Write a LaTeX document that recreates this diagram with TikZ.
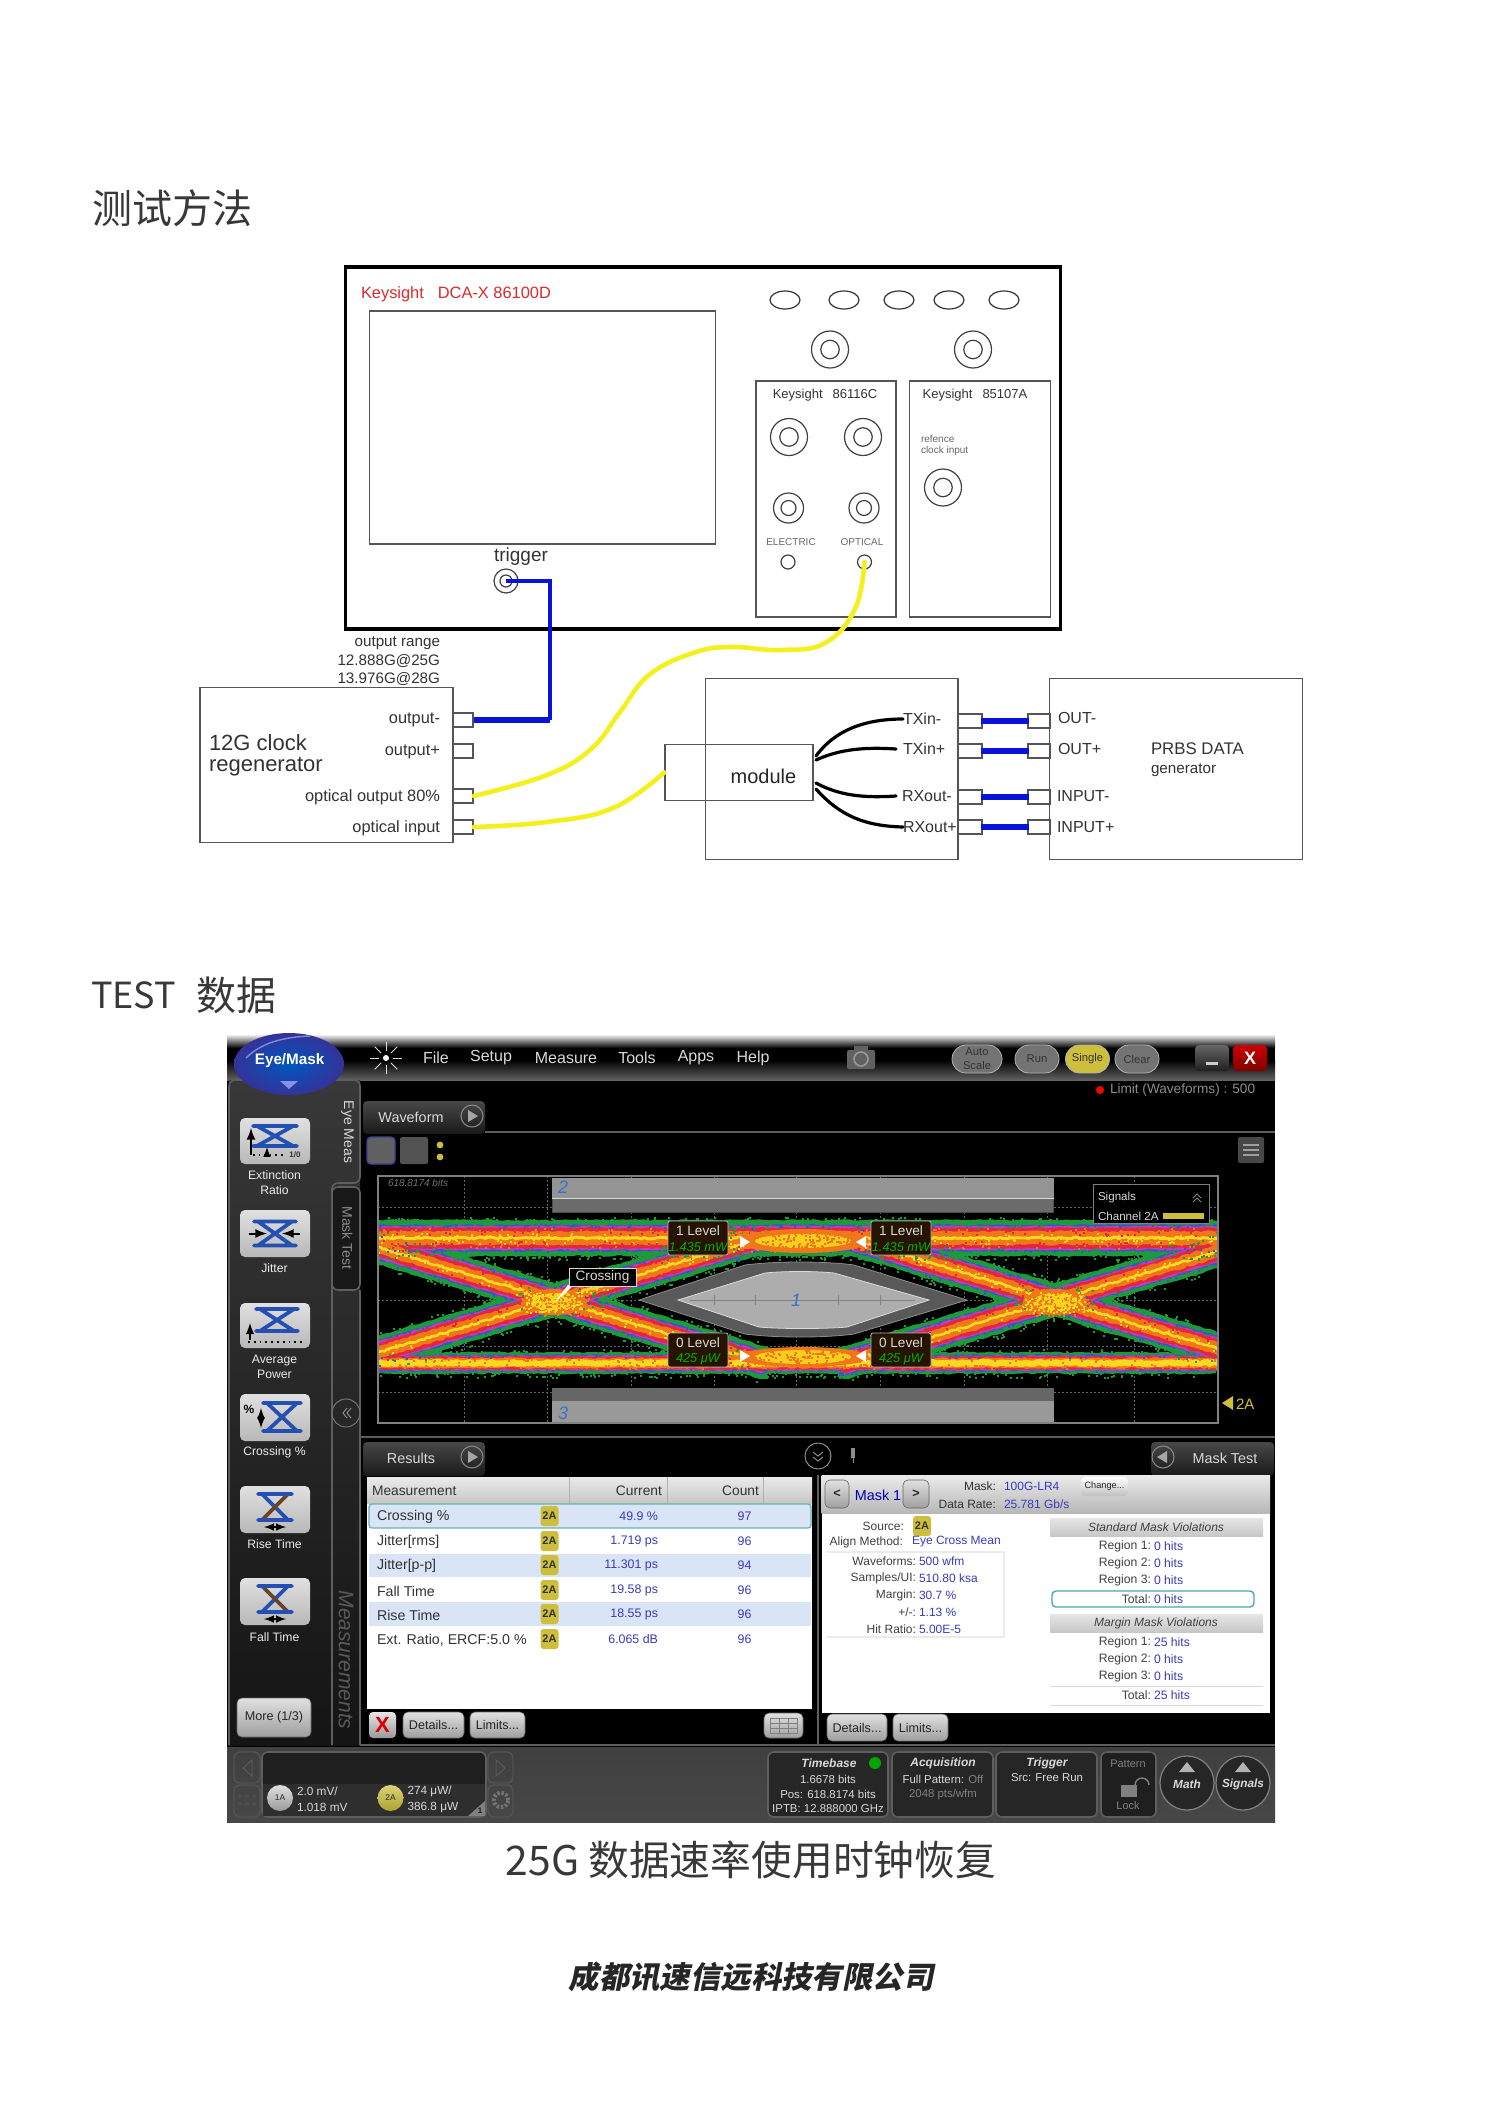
\documentclass[tikz,border=0pt]{standalone}
\usepackage{fontspec}
\setmainfont{Liberation Sans}
\newfontfamily\cjk[BoldFeatures={FakeSlant=0.2}]{Noto Sans CJK SC}
\usetikzlibrary{decorations.pathmorphing,shapes.geometric,calc}
\newcommand\fs[1]{\fontsize{#1}{#1}\selectfont}
\definecolor{yel}{HTML}{F4F020}
\definecolor{blu}{HTML}{0A14D8}
\definecolor{ln}{HTML}{555555}
\definecolor{eyeg}{HTML}{1F9A3A}
\definecolor{eyeb}{HTML}{3A55C8}
\definecolor{eyep}{HTML}{C23CC0}
\definecolor{eyer}{HTML}{E2263F}
\definecolor{eyeo}{HTML}{F0761A}
\definecolor{eyey}{HTML}{F9D81F}
\definecolor{vb}{HTML}{3A3ABC}
\definecolor{bdg}{HTML}{CDBE3C}
\definecolor{frm}{HTML}{5E5E5E}
\definecolor{rowb}{HTML}{D9E4F6}
\definecolor{icb}{HTML}{2450B4}
\definecolor{mnum}{HTML}{3F6FC8}
\newcounter{tn}
\newcommand\tx[4][]{\stepcounter{tn}\node[txt,#1] (t\thetn) at ({#2},{#3}) {#4};}
\newcommand\ring[4]{\node[ringo,minimum size=#4pt] (#1) at (#2,#3) {};\node[ringi,minimum size=#4*0.5pt] (#1i) at (#1) {};}
\newcommand\btn[5]{\shade[rounded corners=2.5pt,top color=white!88!black,bottom color=black!38,draw=black!60,line width=.3pt] (#1,#2) rectangle (#3,#4);\tx[font=\fs{6.3},text=black!85]{(#1+#3)/2}{(#2+#4)/2}{#5}}
\newcommand\badge[2]{\fill[bdg,rounded corners=1.5pt] (#1-9,#2-10) rectangle (#1+9,#2+10);\tx[font=\bfseries\fs{5.5},text=black!80]{#1}{#2}{2A}}
% hourglass glyph: centre x, centre y, half width, half height
\newcommand\xic[4]{\draw[icb,line width=1.9pt,line cap=round] ({#1-#3},{#2-#4}) -- ({#1+#3},{#2-#4}) ({#1-#3},{#2+#4}) -- ({#1+#3},{#2+#4}) ({#1-#3+4},{#2-#4}) -- ({#1+#3-4},{#2+#4}) ({#1+#3-4},{#2-#4}) -- ({#1-#3+4},{#2+#4});}
\newcommand\lbtn[3]{\shade[rounded corners=2.5pt,top color=black!12,bottom color=black!28] (240,#1) rectangle (310,#2);#3}
\newcommand\eyelayer[3]{%
\draw[#1,line width=#2*18.5pt,line join=round,decorate] (378,1238) -- (1218,1238);
\draw[#1,line width=#3*10.5pt,line join=round,decorate] (378,1363) -- (1218,1363);
\draw[#1,line width=#2*16.5pt,line join=round,decorate]
 (340,1236) -- (554,1300) -- (768,1364)
 (340,1364) -- (554,1300) -- (768,1236)
 (841,1236) -- (1055,1300) -- (1269,1364)
 (841,1364) -- (1055,1300) -- (1269,1236);}
% #1 colour, #2 count, #3 inner offset, #4 spread: grain along the edges of the two flat bands
\newcommand\grainflat[4]{\foreach \i in {1,...,#2}{
 \pgfmathsetmacro\xa{378+838*rnd}\pgfmathsetmacro\ya{1238+(2*int(2*rnd)-1)*(#3+#4*rnd)}
 \fill[#1] (\xa,\ya) rectangle ++(2,2);}}
\newcommand\grainlow[4]{\foreach \i in {1,...,#2}{
 \pgfmathsetmacro\xa{378+838*rnd}\pgfmathsetmacro\ya{1363+(2*int(2*rnd)-1)*(#3+#4*rnd)}
 \fill[#1] (\xa,\ya) rectangle ++(2,2);}}
% grain along the crossing traces
\newcommand\grainx[4]{\foreach \i in {1,...,#2}{
 \pgfmathsetmacro\xa{378+838*rnd}
 \pgfmathsetmacro\cc{\xa<805?554:1055}
 \pgfmathsetmacro\ya{1300+(2*int(2*rnd)-1)*0.3*(\xa-\cc)+(2*int(2*rnd)-1)*(#3+#4*rnd)}
 \pgfmathsetmacro\ok{abs(\xa-\cc)<205?1:0}
 \ifdim\ok pt>0.5pt \fill[#1] (\xa,\ya) rectangle ++(2,2);\fi}}
% grain scattered in a box around a centre: colour, count, cx, cy, half w, half h
\newcommand\grainbox[6]{\foreach \i in {1,...,#2}{
 \pgfmathsetmacro\xa{#3+(2*int(2*rnd)-1)*#5*rnd}\pgfmathsetmacro\ya{#4+(2*int(2*rnd)-1)*#6*rnd}
 \fill[#1] (\xa,\ya) rectangle ++(2,2);}}
\tikzset{
 txt/.style={inner sep=0pt,outer sep=0pt},
 box/.style={draw=ln,line width=.9pt},
 ringo/.style={circle,draw=black!75,line width=.6pt,inner sep=0pt,fill=white},
 ringi/.style={circle,draw=black!75,line width=.6pt,inner sep=0pt},
 port/.style={rectangle,draw=ln,line width=.8pt,fill=white,minimum width=10pt,minimum height=7pt,inner sep=0pt},
 ycable/.style={yel,line width=2.3pt,line cap=round},
 bcable/.style={blu,line width=2pt},
 bshort/.style={blu,line width=2.8pt},
 kcable/.style={black,line width=1.6pt,line cap=round},
 dk/.style={font=\fs{7.6},text=black!80},
 dl/.style={font=\fs{8.2},text=black!80},
 lb/.style={font=\fs{6.1},text=white!92!black,align=center},
 gw/.style={text=white!85!black},
 val/.style={font=\fs{6.2},text=vb},
 reg/.style={font=\fs{6.1},text=black!75,anchor=east},
 rv/.style={font=\fs{6.1},text=vb,anchor=west},
 plaq/.style={fill=black!85!orange,draw=white!70!black,line width=.4pt,rounded corners=1pt},
 panel/.style={draw=frm,line width=.8pt,rounded corners=3pt},
 dimtab/.style={draw=black!68,line width=.7pt,rounded corners=3pt},
}
\begin{document}
\begin{tikzpicture}[x=0.5pt,y=-0.5pt]
\useasboundingbox (0,0) rectangle (1500,2121);
\fill[white] (0,0) rectangle (1500,2121);
% headings
\node[txt,anchor=west,font=\cjk\fs{20},text=black!78] (h1) at (92,208) {测试方法};
\node[txt,anchor=west,font=\cjk\fs{18},text=black!78] (h2) at (91,995) {TEST};
\node[txt,anchor=west,font=\cjk\fs{20},text=black!78] (h2b) at (196,995) {数据};
\node[txt,font=\cjk\fs{20.4},text=black!78] (h3) at (751,1860) {25G 数据速率使用时钟恢复};
\node[txt,font=\cjk\bfseries\fs{15.2},text=black!85] (h4) at (751,1977) {成都讯速信远科技有限公司};
% ---------- instrument
\node[draw=black,line width=1.7pt,minimum width=357.5pt,minimum height=181pt,inner sep=0pt] (dca) at (703,448) {};
\node[box,minimum width=173pt,minimum height=116.5pt,inner sep=0pt] (scr) at (542.5,427.5) {};
\node[txt,anchor=west,font=\fs{8.2},text=red!80!white!85!black] (dcat) at (361,294) {Keysight\hspace{7pt}DCA-X 86100D};
\foreach \n/\x in {a/785,b/844,c/899,d/949,e/1004}{\node[ellipse,draw=black!80,line width=.6pt,minimum width=15pt,minimum height=9pt,inner sep=0pt] (ov\n) at (\x,300) {};}
\ring{r1}{830}{349.5}{18.5}
\ring{r2}{973}{349.5}{18.5}
\node[box,minimum width=70pt,minimum height=118pt,inner sep=0pt] (m1) at (826.2,499) {};
\node[box,minimum width=70.5pt,minimum height=118pt,inner sep=0pt] (m2) at (980,499) {};
\node[txt,font=\fs{6.5},text=black!80] (m1t) at (825,395) {Keysight\hspace{5pt}86116C};
\node[txt,font=\fs{6.5},text=black!80] (m2t) at (975,395) {Keysight\hspace{5pt}85107A};
\node[txt,anchor=west,font=\fs{5},text=black!60,align=left] (ref) at (921,445.5) {refence\\[.6pt]clock input};
\ring{r3}{943}{487.5}{18.5}
\ring{r4}{789}{437}{18.5}
\ring{r5}{863}{437}{18.5}
\ring{r6}{788.5}{508}{15}
\ring{r7}{864}{508}{15}
\node[txt,font=\fs{5},text=black!60] (el) at (791,542) {ELECTRIC};
\node[txt,font=\fs{5},text=black!60] (op) at (862,542) {OPTICAL};
\node[ringo,minimum size=7pt] (elp) at (788,562) {};
\node[ringo,minimum size=7pt] (opp) at (864.5,562) {};
\node[txt,font=\fs{9.5},text=black!80] (trl) at (521,557) {trigger};
\ring{trg}{506}{581}{12}
% clock regenerator
\node[txt,anchor=east,dk,align=right] (rng1) at (440,643) {output range};
\node[txt,anchor=east,dk,align=right] (rng2) at (440,661) {12.888G@25G};
\node[txt,anchor=east,dk,align=right] (rng3) at (440,679) {13.976G@28G};
\node[box,minimum width=126.5pt,minimum height=77.5pt,inner sep=0pt] (clk) at (326.7,765) {};
\node[txt,anchor=west,font=\fs{11},text=black!80] (cl1) at (209,743) {12G clock};
\node[txt,anchor=west,font=\fs{11},text=black!80] (cl2) at (209,767) {regenerator};
\node[port] (po1) at (463,720) {};
\node[port] (po2) at (463,751) {};
\node[port] (po3) at (463,796) {};
\node[port] (po4) at (463,827) {};
\node[txt,anchor=east,dl] (pl1) at (440,720) {output-};
\node[txt,anchor=east,dl] (pl2) at (440,752) {output+};
\node[txt,anchor=east,dl] (pl3) at (440,797) {optical output 80\%};
\node[txt,anchor=east,dl] (pl4) at (440,828) {optical input};
% module
\node[box,minimum width=126.2pt,minimum height=90.5pt,inner sep=0pt] (mod) at (831.7,769) {};
\node[box,minimum width=74pt,minimum height=28pt,inner sep=0pt] (msm) at (739,772.5) {};
\node[txt,font=\fs{10},text=black!85] (mdl) at (763.5,776) {module};
\node[box,minimum width=126.5pt,minimum height=90.5pt,inner sep=0pt] (gen) at (1176,769) {};
\foreach \n/\y in {1/721,2/751,3/797,4/827}{
 \node[port,minimum width=12pt] (ma\n) at (970,\y) {};
 \node[port,minimum width=11pt] (ge\n) at (1039,\y) {};
 \draw[bshort] ([xshift=-1pt]ma\n.east) -- ([xshift=1pt]ge\n.west);
}
\node[txt,anchor=west,font=\fs{8},text=black!80] (tx1) at (903,719) {TXin-};
\node[txt,anchor=west,font=\fs{8},text=black!80] (tx2) at (903,749) {TXin+};
\node[txt,anchor=west,font=\fs{8},text=black!80] (rx1) at (902,796) {RXout-};
\node[txt,anchor=west,font=\fs{8},text=black!80] (rx2) at (903,827) {RXout+};
\node[txt,anchor=west,font=\fs{8},text=black!80] (ou1) at (1058,718) {OUT-};
\node[txt,anchor=west,font=\fs{8},text=black!80] (ou2) at (1058,749) {OUT+};
\node[txt,anchor=west,font=\fs{8},text=black!80] (in1) at (1057,796) {INPUT-};
\node[txt,anchor=west,font=\fs{8},text=black!80] (in2) at (1057,827) {INPUT+};
\node[txt,anchor=west,font=\fs{8.4},text=black!80] (prb) at (1151,749) {PRBS DATA};
\node[txt,anchor=west,font=\fs{7.6},text=black!80] (prg) at (1151,770) {generator};
% cables
\coordinate (tb) at (549.5,720);
\draw[bcable] (trg.center) -| (tb);
\draw[blu,line width=2.9pt] (tb) -- (po1.east);
\draw[ycable] plot[smooth,tension=.7] coordinates {(po3.east) (547,775) (591,749) (620,712) (649,675) (693,653) (730,647) (781,650) (825,643) (855,609) (opp.center)};
\draw[ycable] plot[smooth,tension=.7] coordinates {(po4.east) (547,822) (613,808) (msm.west)};
\coordinate (k1) at (816,756);\coordinate (k2) at (816,760);\coordinate (k3) at (816,783);\coordinate (k4) at (816,789);
\draw[kcable] (k1) .. controls (835,730) and (865,719) .. (tx1.west);
\draw[kcable] (k2) .. controls (840,749) and (865,747) .. (896,749);
\draw[kcable] (k3) .. controls (840,796) and (865,798) .. (896,796);
\draw[kcable] (k4) .. controls (840,816) and (865,826) .. (rx2.west);
% ---------- screenshot
\fill[black] (227,1038) rectangle (1275,1822);
\shade[top color=white,bottom color=black] (227,1034) rectangle (1275,1048);
\shade[top color=black,bottom color=black!62] (227,1060) rectangle (1275,1080);
\shade[top color=black!75,middle color=black!90,bottom color=black!72] (227,1747) rectangle (1275,1822);
\shade[top color=black!78,bottom color=black!92] (229,1080) rectangle (360,1745);
\draw[frm,line width=.8pt,rounded corners=3pt] (229,1745) -- (229,1080) -- (360,1080) -- (360,1183) -- (332,1183) -- (332,1745);
\draw[frm,line width=.8pt] (360,1290) -- (360,1745);
\draw[panel,fill=black!90] (332,1187) rectangle (360,1290);
\tx[rotate=-90,font=\fs{7},gw]{347.5}{1132}{Eye Meas}
\tx[rotate=-90,font=\fs{7},text=black!45]{347.5}{1238}{Mask Test}
\tx[rotate=-90,font=\itshape\fs{10.5},text=black!65]{346}{1660}{Measurements}
% eye/mask ball
\shade[inner color=blue!55!cyan!75!black,outer color=blue!50!black!80] (289,1064) ellipse (27.5pt and 15.5pt);
\draw[white!75!blue,line width=.7pt,opacity=.6] (246,1058) .. controls (262,1042) and (285,1037) .. (310,1036);
\fill[white!70!blue,opacity=.7] (280,1081) -- (298,1081) -- (289,1089) -- cycle;
\tx[font=\bfseries\fs{7.6},text=white]{289.6}{1061}{Eye/Mask}
% menu
\foreach \a in {0,45,...,315}{\draw[white!85!black,line width=.4pt] ($(386,1058)+(\a:3.5pt)$) -- ($(386,1058)+(\a:8pt)$);}
\fill[white] (386,1058) circle (1.5pt);
\foreach \t/\x in {File/436,Setup/491,Measure/566,Tools/637,Apps/696,Help/753}{\tx[font=\fs{8},gw]{\x}{1058}{\t}}
\fill[black!62,rounded corners=1pt] (847,1050) rectangle (875,1069);
\fill[black!62] (854,1046) rectangle (868,1050);
\draw[black!40,line width=.8pt] (861,1059) circle (3.5pt);
\foreach \t/\x/\w/\c in {{\shortstack{Auto\\Scale}}/977/25/black!55,Run/1037/22/black!55,Single/1087.5/22/bdg,Clear/1137/22/black!55}{
 \fill[\c,draw=black!30,line width=.4pt,rounded corners=7pt] (\x-\w,1045) rectangle (\x+\w,1073);
 \tx[font=\fs{5.6},align=center,text=black!80]{\x}{1059}{\t}}
\shade[top color=black!60,bottom color=black!88,rounded corners=2pt] (1195,1045) rectangle (1229,1071);
\fill[white!80!black] (1206,1062) rectangle (1218,1065);
\shade[top color=red!80!black,bottom color=red!50!black,rounded corners=2pt] (1233,1045) rectangle (1267,1071);
\tx[font=\bfseries\fs{9},text=white]{1250}{1058}{X}
\fill[red] (1100,1090) circle (2pt);
\tx[anchor=west,font=\fs{6.8},text=black!45]{1110}{1090}{Limit (Waveforms) : 500}
% waveform tab
\shade[top color=black!72,bottom color=black!90,rounded corners=2pt] (363,1101) rectangle (485,1134);
\draw[frm,line width=.8pt] (485,1132) -- (1275,1132);
\tx[font=\fs{7.2},gw]{411}{1117}{Waveform}
\draw[black!45,line width=.5pt] (472,1116) circle (5.5pt);
\fill[black!35] (468,1110) -- (478,1116) -- (468,1122) -- cycle;
\fill[black!62,draw=blue!45!black!75,line width=.7pt,rounded corners=2pt] (367,1137) rectangle (395,1164);
\fill[black!68,rounded corners=1pt] (400,1137) rectangle (428,1164);
\fill[bdg] (440,1145) circle (1.7pt) (440,1157) circle (1.7pt);
\fill[black!72,rounded corners=1pt] (1238,1137) rectangle (1264,1163);
\foreach \y in {1145,1150,1155}{\fill[black!38] (1243,\y-1) rectangle (1259,\y+1);}
% plot
\begin{scope}
\clip (378,1176) rectangle (1218,1423);
\foreach \x in {464,547,631,714,796,880,964,1047,1134}{\draw[black!60,line width=.3pt,dash pattern=on 1pt off 1pt] (\x,1176) -- (\x,1423);}
\foreach \y in {1207,1254,1300,1346,1392}{\draw[black!60,line width=.3pt,dash pattern=on 1pt off 1pt] (378,\y) -- (1218,\y);}
\pgfmathsetseed{7}
\begin{scope}[decoration={random steps,segment length=1.3pt,amplitude=.5pt}]
\eyelayer{eyeg}{.96}{1.0}
\eyelayer{eyeb}{.70}{.76}
\eyelayer{eyep}{.63}{.68}
\eyelayer{eyer}{.54}{.60}
\eyelayer{eyeo}{.36}{.46}
\eyelayer{eyey}{.08}{.30}
\end{scope}
\grainflat{eyeg}{420}{16}{5}
\grainflat{eyeg}{200}{10}{6}
\grainflat{eyeb}{160}{11}{2}
\grainflat{eyeo}{160}{5}{5}
\grainflat{eyey}{200}{0}{5}
\grainflat{eyer}{160}{3}{6}
\grainlow{eyeg}{300}{9}{5}
\grainlow{eyeb}{100}{6}{2}
\grainlow{eyeo}{160}{1}{4}
\grainx{eyeg}{620}{14}{7}
\grainx{eyeg}{240}{10}{5}
\grainx{eyeb}{220}{11}{3}
\grainx{eyer}{220}{4}{6}
\grainx{eyey}{220}{0}{5}
% hot spots
\foreach \cx in {554,1055}{
 \fill[eyeo] (\cx,1302) ellipse (16pt and 6.5pt);
 \fill[eyey!85!orange] (\cx,1302) ellipse (11pt and 4.5pt);
 \grainbox{eyeo}{220}{\cx}{1302}{34}{13}
 \grainbox{eyey}{120}{\cx}{1302}{30}{10}}
\fill[eyeo] (803,1241) ellipse (33pt and 6pt) (803,1357) ellipse (33pt and 5pt);
\fill[eyey!90!orange] (803,1241) ellipse (24pt and 3.5pt) (803,1357) ellipse (24pt and 3.5pt);
\grainbox{eyeo}{200}{803}{1241}{62}{10}
\grainbox{eyeo}{160}{803}{1357}{62}{8}
% masks
\fill[black!58,draw=black!70,line width=.3pt] (552,1178) rectangle (1053.5,1212);
\fill[black!42] (552,1178) rectangle (1053.5,1198);
\draw[white!85!black,line width=.5pt] (552,1198) -- (1053.5,1198);
\fill[black!60] (552,1388) rectangle (1053.5,1422);
\fill[black!40] (552,1401) rectangle (1053.5,1422);
\fill[black!65,draw=black!45,line width=.4pt] (639,1300) -- (745,1265) .. controls (775,1261) and (825,1261) .. (854,1265) -- (967,1300) -- (854,1334) .. controls (825,1338) and (775,1338) .. (745,1334) -- cycle;
\fill[black!32,draw=black!15,line width=.4pt] (678,1300) -- (765,1273) .. controls (785,1271) and (815,1271) .. (834,1273) -- (929,1300) -- (847,1327) .. controls (825,1329) and (780,1329) .. (759,1327) -- cycle;
\draw[black!50,line width=.3pt] (690,1300) -- (915,1300);
\foreach \x in {714,755,796,838,880}{\draw[black!50,line width=.3pt] (\x,1295) -- (\x,1305);}
\end{scope}
\tx[font=\itshape\fs{9},text=mnum]{563}{1187}{2}
\tx[font=\itshape\fs{9},text=mnum]{563}{1413}{3}
\tx[font=\itshape\fs{9},text=mnum]{796}{1300}{1}
\tx[anchor=west,font=\itshape\fs{5},text=black!55]{388}{1183}{618.8174 bits}
\draw[black!50,line width=.8pt] (378,1176) rectangle (1218,1423);
% signals legend
\fill[black,draw=black!50,line width=.5pt] (1093,1184) rectangle (1209,1223);
\tx[anchor=west,font=\fs{5.8},gw]{1098}{1197}{Signals}
\draw[black!45,line width=.5pt] (1193,1198) -- (1197,1194) -- (1201,1198) (1193,1202) -- (1197,1198) -- (1201,1202);
\tx[anchor=west,font=\fs{5.8},gw]{1098}{1216}{Channel 2A}
\fill[bdg] (1163,1213) rectangle (1204,1219);
% plaques
\foreach \x/\ln/\lv/\c/\ya/\yb in {668/1 Level/1.435 mW/green!70!black/1221/1255,871/1 Level/1.435 mW/green!70!black/1221/1255,668/0 Level/425 μW/green!70!black/1333/1367,871/0 Level/425 μW/green!70!black/1333/1367}{
 \fill[plaq] (\x,\ya) rectangle (\x+60,\yb);
 \tx[font=\fs{6.8},gw]{\x+30}{\ya+10}{\ln}
 \tx[font=\itshape\fs{6.4},text=\c]{\x+30}{\ya+26}{\lv}}
\fill[white] (740,1236) -- (750,1242) -- (740,1248) -- cycle (866,1236) -- (856,1242) -- (866,1248) -- cycle;
\fill[white] (740,1350) -- (750,1356) -- (740,1362) -- cycle (866,1350) -- (856,1356) -- (866,1362) -- cycle;
\fill[white] (568,1285) -- (574,1285) -- (554,1303) -- cycle;
\fill[black,draw=white!85!black,line width=.5pt] (569,1268) rectangle (636,1286);
\tx[font=\fs{6.8},gw]{602.5}{1277}{Crossing}
\fill[bdg] (1222,1403) -- (1233,1396) -- (1233,1410) -- cycle;
\tx[anchor=west,font=\fs{7.5},text=bdg!90!yellow]{1236}{1404}{2A}
% left buttons
\lbtn{1118}{1164}{\xic{275}{1136}{22}{10}\draw[black,-latex,line width=1pt] (251,1155) -- (251,1128);\draw[black,-latex,line width=.7pt] (267,1156) -- (267,1147);\draw[black,dotted,line width=.8pt] (253,1155) -- (284,1155);\tx[font=\bfseries\fs{4},text=black!80]{295}{1155}{1/0}}
\tx[lb]{274.5}{1183}{Extinction\\[1.5pt]Ratio}
\lbtn{1210}{1257}{\xic{275}{1233.5}{21}{12}\draw[black,-latex,line width=1pt] (249,1233.5) -- (267,1233.5);\draw[black,-latex,line width=1pt] (300,1233.5) -- (282,1233.5);}
\tx[lb]{274.5}{1268}{Jitter}
\lbtn{1303}{1348}{\xic{277}{1320}{21}{11}\draw[black,dotted,line width=.9pt] (248,1342) -- (303,1342);\draw[black,-latex,line width=.9pt] (250,1340) -- (250,1323);}
\tx[lb]{274.5}{1367}{Average\\[1.5pt]Power}
\lbtn{1394}{1441}{\xic{282}{1417}{19}{14}\tx[font=\bfseries\fs{6},text=black]{249}{1409}{\%}\draw[black,<->,>=latex,line width=.8pt] (261,1408) -- (261,1428);}
\tx[lb]{274.5}{1452}{Crossing \%}
\lbtn{1486}{1533}{\xic{275}{1507}{17}{13}\draw[black!50!orange,line width=1.4pt] (264,1518) -- (286,1496);\draw[black,<->,>=latex,line width=.7pt] (264,1527) -- (286,1527);}
\tx[lb]{274.5}{1544}{Rise Time}
\lbtn{1578}{1625}{\xic{275}{1599}{17}{13}\draw[black!50!orange,line width=1.4pt] (264,1588) -- (286,1610);\draw[black,<->,>=latex,line width=.7pt] (264,1619) -- (286,1619);}
\tx[lb]{274.5}{1637}{Fall Time}
\btn{237}{1698}{311}{1737}{More (1/3)}
\draw[black!55,line width=.5pt] (346,1413) circle (7pt);
\draw[black!45,line width=.5pt] (347,1408) -- (343,1413) -- (347,1418) (351,1408) -- (347,1413) -- (351,1418);
% frame lines
\draw[frm,line width=1.2pt] (360,1437) -- (1275,1437);
\draw[frm,line width=.8pt] (360,1745) -- (1275,1745);
\draw[frm,line width=.8pt] (818,1475) -- (818,1745);
% results tabs
\shade[top color=black!72,bottom color=black!90,rounded corners=2pt] (363,1442) rectangle (485,1476);
\tx[font=\fs{7.2},gw]{411}{1458}{Results}
\draw[black!45,line width=.5pt] (472,1457) circle (5.5pt);
\fill[black!35] (468,1451) -- (478,1457) -- (468,1463) -- cycle;
\draw[black!45,line width=.5pt] (818,1456) circle (6.5pt);
\draw[black!45,line width=.5pt] (813,1452) -- (818,1456) -- (823,1452) (813,1457) -- (818,1461) -- (823,1457);
\fill[black!45] (851,1448) rectangle (855,1458);
\draw[black!45,line width=.5pt] (853,1458) -- (853,1463);
\shade[top color=black!72,bottom color=black!90,rounded corners=2pt] (1151,1442) rectangle (1274,1476);
\draw[black!45,line width=.5pt] (1163,1457) circle (5.5pt);
\fill[black!35] (1167,1451) -- (1157,1457) -- (1167,1463) -- cycle;
\tx[font=\fs{7.2},gw]{1225}{1458}{Mask Test}
% results table
\fill[white] (367,1477) rectangle (812,1709);
\shade[top color=white!92!black,bottom color=black!22] (367,1477) rectangle (812,1503);
\foreach \x in {569,667,763.5}{\draw[white!70!black,line width=.4pt] (\x,1477) -- (\x,1503);}
\tx[anchor=west,font=\fs{6.9},text=black!80]{372}{1491}{Measurement}
\tx[anchor=east,font=\fs{6.9},text=black!80]{662}{1491}{Current}
\tx[anchor=east,font=\fs{6.9},text=black!80]{759}{1491}{Count}
\fill[rowb] (369,1504) rectangle (811,1528);
\fill[rowb] (369,1554) rectangle (811,1577);
\fill[rowb] (369,1602) rectangle (811,1626);
\draw[teal!60!white,line width=.6pt,rounded corners=1.5pt] (369,1504) rectangle (811,1528);
\foreach \y/\n/\v/\c in {1516/Crossing \%/49.9 \%/97,1541/Jitter[rms]/1.719 ps/96,1565/Jitter[p-p]/11.301 ps/94,1590/Fall Time/19.58 ps/96,1614/Rise Time/18.55 ps/96,1639/{Ext. Ratio, ERCF:5.0 \%}/6.065 dB/96}{
 \tx[anchor=west,font=\fs{7.1},text=black!80]{377}{\y+1}{\n}
 \badge{549.5}{\y}
 \tx[anchor=east,val]{658}{\y}{\v}
 \tx[val]{744.5}{\y}{\c}}
\shade[top color=white!90!black,bottom color=black!40,rounded corners=2pt] (369,1712) rectangle (396,1738);
\tx[font=\bfseries\fs{11},text=red!85!black]{382.5}{1725}{X}
\btn{403}{1712}{464}{1738}{Details...}
\btn{470}{1712}{525}{1738}{Limits...}
\btn{764}{1713}{803}{1738}{}
\draw[black!50,line width=.4pt] (770,1718) rectangle (797,1733) (770,1723) -- (797,1723) (770,1728) -- (797,1728) (779,1718) -- (779,1733) (788,1718) -- (788,1733);
% mask panel
\fill[white] (821.5,1475) rectangle (1270,1713);
\shade[top color=white!92!black,bottom color=black!28] (821.5,1475) rectangle (1270,1513);
\btn{825}{1480}{849}{1508}{\bfseries<}
\btn{903}{1480}{929}{1508}{\bfseries>}
\tx[font=\fs{7.2},text=blue!70!black]{878}{1495}{Mask 1}
\tx[anchor=east,font=\fs{6},text=black!80]{996}{1486}{Mask:}
\tx[anchor=west,font=\fs{6},text=vb]{1004}{1486}{100G-LR4}
\tx[anchor=east,font=\fs{6},text=black!80]{996}{1504}{Data Rate:}
\tx[anchor=west,font=\fs{6},text=vb]{1004}{1504}{25.781 Gb/s}
\shade[top color=white,bottom color=black!25,rounded corners=2pt] (1081,1477) rectangle (1128,1496);
\tx[font=\fs{4.6},text=black!85]{1104.5}{1486.5}{Change...}
\draw[black!8,line width=.6pt] (827,1552) -- (1004,1552) -- (1004,1637) -- (827,1637);
\tx[anchor=east,font=\fs{6},text=black!75]{904}{1526}{Source:}
\badge{922}{1526}
\tx[anchor=east,font=\fs{6},text=black!75]{903}{1542}{Align Method:}
\tx[anchor=west,font=\fs{6},text=vb]{912}{1542}{Eye Cross Mean}
\foreach \y/\n/\v in {1561/Waveforms:/500 wfm,1578/{Samples/UI:}/510.80 ksa,1595/Margin:/30.7 \%,1612/{+/-:}/1.13 \%,1629/Hit Ratio:/5.00E-5}{
 \tx[anchor=east,font=\fs{6},text=black!75]{916}{\y}{\n}
 \tx[anchor=west,font=\fs{6},text=vb]{919}{\y}{\v}}
\shade[top color=white!90!black,bottom color=black!22] (1050,1518) rectangle (1263,1536);
\tx[font=\itshape\fs{6},text=black!75]{1156}{1527}{Standard Mask Violations}
\foreach \y/\n/\v in {1546/Region 1:/0 hits,1563/Region 2:/0 hits,1580/Region 3:/0 hits,1599/Total:/0 hits}{
 \tx[reg]{1151}{\y}{\n}\tx[rv]{1154}{\y}{\v}}
\draw[teal!70!white,line width=.7pt,rounded corners=2pt] (1052,1591) rectangle (1254,1607);
\shade[top color=white!90!black,bottom color=black!22] (1050,1614) rectangle (1263,1632);
\tx[font=\itshape\fs{6},text=black!75]{1156}{1623}{Margin Mask Violations}
\foreach \y/\n/\v in {1642/Region 1:/25 hits,1659/Region 2:/0 hits,1676/Region 3:/0 hits,1695/Total:/25 hits}{
 \tx[reg]{1151}{\y}{\n}\tx[rv]{1154}{\y}{\v}}
\draw[black!15,line width=.4pt] (1050,1686) -- (1263,1686) (1050,1705) -- (1263,1705);
\btn{827}{1714}{887}{1741}{Details...}
\btn{893}{1714}{948}{1741}{Limits...}
% bottom bar
\draw[panel,fill=black!88] (262,1752) rectangle (486,1817);
\fill[black!82] (263,1784) rectangle (485,1816);
\draw[dimtab] (234,1752) rectangle (260,1783) (234,1785) rectangle (260,1817) (488,1752) rectangle (513,1783) (488,1785) rectangle (513,1817);
\draw[black!65,line width=.5pt] (252,1760) -- (243,1768) -- (252,1776) -- cycle (496,1760) -- (505,1768) -- (496,1776) -- cycle;
\foreach \x in {240,247,254}{\fill[black!70] (\x-2,1795) rectangle (\x+2,1798) (\x-2,1802) rectangle (\x+2,1805);}
\draw[black!55,dash pattern=on 1.2pt off .9pt,line width=2pt] (501,1800) circle (3.6pt);
\shade[top color=black!12,bottom color=black!40] (280,1798) circle (6.5pt);
\tx[font=\fs{4.2},text=black!85]{280}{1798}{1A}
\tx[anchor=west,font=\fs{5.9},gw]{297}{1791}{2.0 mV/}
\tx[anchor=west,font=\fs{5.9},gw]{297}{1807}{1.018 mV}
\shade[top color=bdg!70!white,bottom color=bdg!85!black] (390.5,1798) circle (6.5pt);
\tx[font=\fs{4.2},text=black!85]{390.5}{1798}{2A}
\tx[anchor=west,font=\fs{5.9},gw]{407.5}{1791}{274 μW/}
\tx[anchor=west,font=\fs{5.9},gw]{407.5}{1807}{386.8 μW}
\fill[black!50] (485,1816) -- (485,1801) -- (468,1816) -- cycle;
\tx[font=\bfseries\fs{4},text=black!90]{480}{1811}{1}
\draw[panel,fill=black!85] (768,1752) rectangle (888,1817);
\draw[panel,fill=black!85] (892,1752) rectangle (993,1817);
\draw[panel,fill=black!85] (996,1752) rectangle (1097,1817);
\draw[panel,fill=black!88] (1101,1752) rectangle (1156,1817);
\tx[font=\bfseries\itshape\fs{6},gw]{829}{1763}{Timebase}
\fill[green!65!black] (875,1763) circle (3pt);
\tx[font=\fs{5.7},gw]{828}{1779}{1.6678 bits}
\tx[font=\fs{5.7},gw]{828}{1794}{Pos: 618.8174 bits}
\tx[font=\fs{5.7},gw]{828}{1809}{IPTB: 12.888000 GHz}
\tx[font=\bfseries\itshape\fs{6},gw]{943}{1763}{Acquisition}
\tx[font=\fs{5.7},gw]{943}{1779}{Full Pattern: \textcolor{black!50}{Off}}
\tx[font=\fs{5.7},text=black!50]{943}{1795}{2048 pts/wfm}
\tx[font=\bfseries\itshape\fs{6},gw]{1047}{1763}{Trigger}
\tx[font=\fs{5.7},gw]{1047}{1778}{Src: Free Run}
\tx[font=\fs{5.5},text=black!50]{1128}{1764}{Pattern}
\tx[font=\fs{5.5},text=black!50]{1128}{1806}{Lock}
\fill[black!50] (1121,1785) rectangle (1137,1797);
\draw[black!50,line width=.7pt] (1135,1785) arc (180:0:3.5pt);
\foreach \x/\t in {1187/Math,1243/Signals}{
 \draw[fill=black!85,draw=black!50,line width=.6pt] (\x,1783) circle (13.5pt);
 \fill[black!30] (\x-8,1772) -- (\x,1762) -- (\x+8,1772) -- cycle;
 \tx[font=\bfseries\itshape\fs{5.9},gw]{\x}{1784}{\t}}
\end{tikzpicture}
\end{document}
